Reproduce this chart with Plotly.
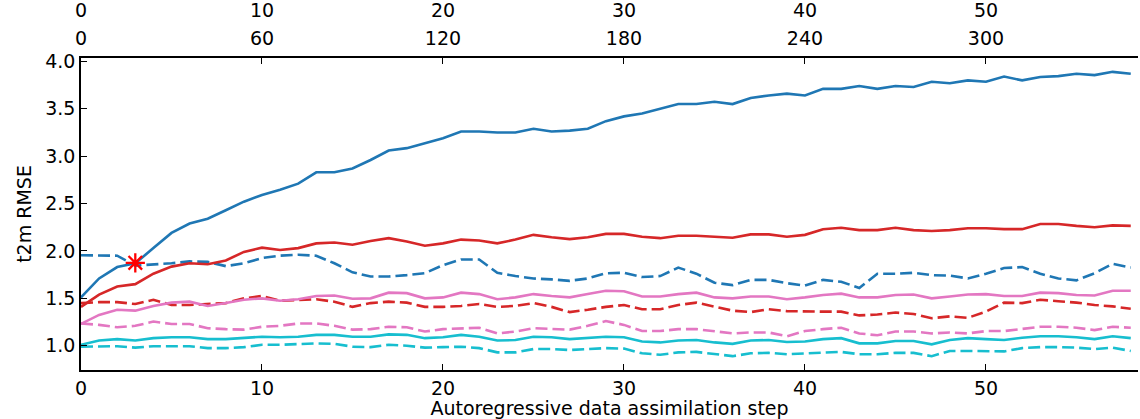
import plotly.graph_objects as go

steps = list(range(59))

blue_solid = [1.51, 1.71, 1.83, 1.87, 2.03, 2.19, 2.29, 2.34, 2.43, 2.52, 2.59, 2.645, 2.71, 2.83, 2.83, 2.87,
              2.96, 3.06, 3.085, 3.14, 3.19, 3.26, 3.26, 3.25, 3.25, 3.29, 3.26, 3.27, 3.29, 3.37, 3.42, 3.45,
              3.50, 3.55, 3.55, 3.575, 3.55, 3.615, 3.64, 3.66, 3.64, 3.71, 3.71, 3.74, 3.71, 3.74, 3.73, 3.785,
              3.77, 3.80, 3.785, 3.84, 3.80, 3.835, 3.845, 3.87, 3.855, 3.89, 3.87]
blue_dashed = [1.955, 1.955, 1.95, 1.845, 1.855, 1.87, 1.89, 1.885, 1.84, 1.87, 1.925, 1.95, 1.96, 1.95, 1.87,
               1.775, 1.73, 1.73, 1.745, 1.765, 1.85, 1.91, 1.91, 1.77, 1.735, 1.71, 1.70, 1.685, 1.71, 1.765,
               1.77, 1.725, 1.735, 1.825, 1.76, 1.665, 1.64, 1.695, 1.695, 1.66, 1.635, 1.695, 1.675, 1.61, 1.76,
               1.76, 1.77, 1.745, 1.74, 1.71, 1.76, 1.82, 1.83, 1.76, 1.71, 1.69, 1.765, 1.865, 1.825]
red_solid = [1.41, 1.54, 1.625, 1.65, 1.76, 1.835, 1.87, 1.86, 1.90, 1.99, 2.035, 2.01, 2.03, 2.08, 2.09, 2.065,
             2.105, 2.135, 2.10, 2.055, 2.08, 2.12, 2.11, 2.08, 2.12, 2.17, 2.145, 2.125, 2.145, 2.18, 2.18, 2.15,
             2.135, 2.16, 2.16, 2.15, 2.14, 2.175, 2.175, 2.15, 2.17, 2.23, 2.245, 2.22, 2.22, 2.245, 2.22, 2.21,
             2.22, 2.24, 2.24, 2.23, 2.23, 2.285, 2.285, 2.265, 2.25, 2.27, 2.265]
red_dashed = [1.45, 1.46, 1.46, 1.44, 1.485, 1.43, 1.43, 1.44, 1.45, 1.50, 1.525, 1.475, 1.485, 1.49, 1.465,
              1.41, 1.45, 1.465, 1.455, 1.41, 1.41, 1.42, 1.44, 1.41, 1.42, 1.45, 1.41, 1.355, 1.38, 1.41, 1.43,
              1.385, 1.385, 1.43, 1.455, 1.41, 1.37, 1.355, 1.385, 1.365, 1.36, 1.36, 1.36, 1.32, 1.33, 1.35,
              1.335, 1.29, 1.31, 1.295, 1.36, 1.455, 1.45, 1.485, 1.47, 1.455, 1.43, 1.415, 1.39]
pink_solid = [1.23, 1.325, 1.38, 1.37, 1.42, 1.455, 1.465, 1.42, 1.45, 1.485, 1.50, 1.475, 1.49, 1.525, 1.53,
              1.495, 1.50, 1.56, 1.555, 1.50, 1.51, 1.56, 1.545, 1.49, 1.51, 1.545, 1.525, 1.51, 1.545, 1.58,
              1.575, 1.52, 1.52, 1.545, 1.56, 1.51, 1.50, 1.52, 1.52, 1.49, 1.51, 1.535, 1.55, 1.51, 1.51, 1.535,
              1.54, 1.50, 1.52, 1.54, 1.545, 1.525, 1.525, 1.56, 1.555, 1.535, 1.53, 1.58, 1.58]
pink_dashed = [1.235, 1.22, 1.195, 1.21, 1.255, 1.23, 1.23, 1.185, 1.175, 1.17, 1.20, 1.21, 1.235, 1.235, 1.21,
               1.17, 1.175, 1.20, 1.195, 1.15, 1.175, 1.185, 1.19, 1.13, 1.15, 1.185, 1.175, 1.17, 1.21, 1.26,
               1.22, 1.155, 1.155, 1.175, 1.175, 1.15, 1.13, 1.14, 1.14, 1.10, 1.155, 1.175, 1.19, 1.13, 1.11,
               1.15, 1.15, 1.13, 1.14, 1.13, 1.155, 1.155, 1.175, 1.20, 1.20, 1.19, 1.165, 1.20, 1.19]
cyan_solid = [1.01, 1.055, 1.07, 1.055, 1.08, 1.09, 1.09, 1.07, 1.07, 1.08, 1.095, 1.09, 1.095, 1.115, 1.115,
              1.095, 1.095, 1.12, 1.115, 1.08, 1.09, 1.115, 1.095, 1.055, 1.06, 1.095, 1.09, 1.07, 1.08, 1.095,
              1.09, 1.045, 1.035, 1.055, 1.06, 1.035, 1.02, 1.055, 1.06, 1.04, 1.045, 1.07, 1.08, 1.025, 1.025,
              1.05, 1.05, 1.015, 1.06, 1.08, 1.07, 1.06, 1.085, 1.10, 1.10, 1.09, 1.07, 1.10, 1.08]
cyan_dashed = [0.99, 0.99, 0.995, 0.98, 0.995, 0.995, 0.995, 0.975, 0.975, 0.985, 1.01, 1.01, 1.02, 1.025, 1.02,
               0.99, 0.985, 1.01, 1.0, 0.98, 0.985, 0.99, 0.975, 0.93, 0.93, 0.965, 0.965, 0.955, 0.965, 0.975,
               0.97, 0.92, 0.905, 0.93, 0.935, 0.91, 0.89, 0.92, 0.925, 0.91, 0.92, 0.93, 0.935, 0.91, 0.91,
               0.925, 0.925, 0.89, 0.945, 0.945, 0.945, 0.94, 0.975, 0.985, 0.985, 0.98, 0.965, 0.98, 0.945]

marker_x = [3]
marker_y = [1.875]

bottom_ticks = [0, 10, 20, 30, 40, 50]
hour_ticks = [0, 60, 120, 180, 240, 300]
hours_per_step = 6

BLUE, RED, PINK, CYAN = "#1f77b4", "#d62728", "#e377c2", "#17becf"
DASH = "12px,5px"
FONT = "DejaVu Sans"
FS = 19

series = [
    (blue_solid, BLUE, "solid"), (blue_dashed, BLUE, DASH),
    (red_solid, RED, "solid"), (red_dashed, RED, DASH),
    (pink_solid, PINK, "solid"), (pink_dashed, PINK, DASH),
    (cyan_solid, CYAN, "solid"), (cyan_dashed, CYAN, DASH),
]

fig = go.Figure()
for ys, col, dash in series:
    fig.add_trace(go.Scatter(x=steps, y=ys, mode="lines",
                             line=dict(color=col, width=2.6, dash=dash),
                             showlegend=False, hoverinfo="skip"))

fig.add_trace(go.Scatter(x=marker_x, y=marker_y, mode="markers",
                         marker=dict(symbol="asterisk-open", size=16, color="red",
                                     line=dict(color="red", width=2.3)),
                         showlegend=False))

xmax = 58.4
# invisible traces for top axes
fig.add_trace(go.Scatter(x=[0, xmax * hours_per_step], y=[1, 1], xaxis="x2", yaxis="y",
                         mode="lines", line=dict(width=0), opacity=0, showlegend=False, hoverinfo="skip"))
fig.add_trace(go.Scatter(x=[0, xmax], y=[1, 1], xaxis="x3", yaxis="y",
                         mode="lines", line=dict(width=0), opacity=0, showlegend=False, hoverinfo="skip"))

top_margin = 21
bottom_margin = 49
paper_h = 419 - top_margin - bottom_margin
dom_top = 1 - (58 - top_margin) / paper_h

axis_common = dict(showgrid=False, zeroline=False, showline=True, linecolor="black", linewidth=1.6,
                   ticks="inside", ticklen=6, tickwidth=1.4, tickcolor="black", automargin=False,
                   tickfont=dict(family=FONT, size=FS, color="black"))

fig.update_layout(
    width=1140, height=419,
    margin=dict(l=81, r=2, t=top_margin, b=bottom_margin),
    paper_bgcolor="white", plot_bgcolor="white",
    font=dict(family=FONT, size=FS, color="black"),
    xaxis=dict(range=[0, xmax], tickvals=bottom_ticks, anchor="y", side="bottom",
               title=dict(text="Autoregressive data assimilation step", font=dict(family=FONT, size=FS),
                          standoff=11),
               **axis_common),
    yaxis=dict(range=[0.744, 4.036], domain=[0, dom_top], dtick=0.5, tick0=0, tickformat=".1f",
               title=dict(text="t2m RMSE", font=dict(family=FONT, size=FS), standoff=9),
               **axis_common),
    xaxis2=dict(range=[0, xmax * hours_per_step], tickvals=hour_ticks, overlaying="x", anchor="y",
                side="top", ticklabelstandoff=4, **axis_common),
    xaxis3=dict(range=[0, xmax], tickvals=bottom_ticks, overlaying="x", anchor="free", position=1,
                side="top", showgrid=False, zeroline=False, showline=False, ticks="", automargin=False,
                tickfont=dict(family=FONT, size=FS, color="black")),
)

fig.write_html("out.html")
